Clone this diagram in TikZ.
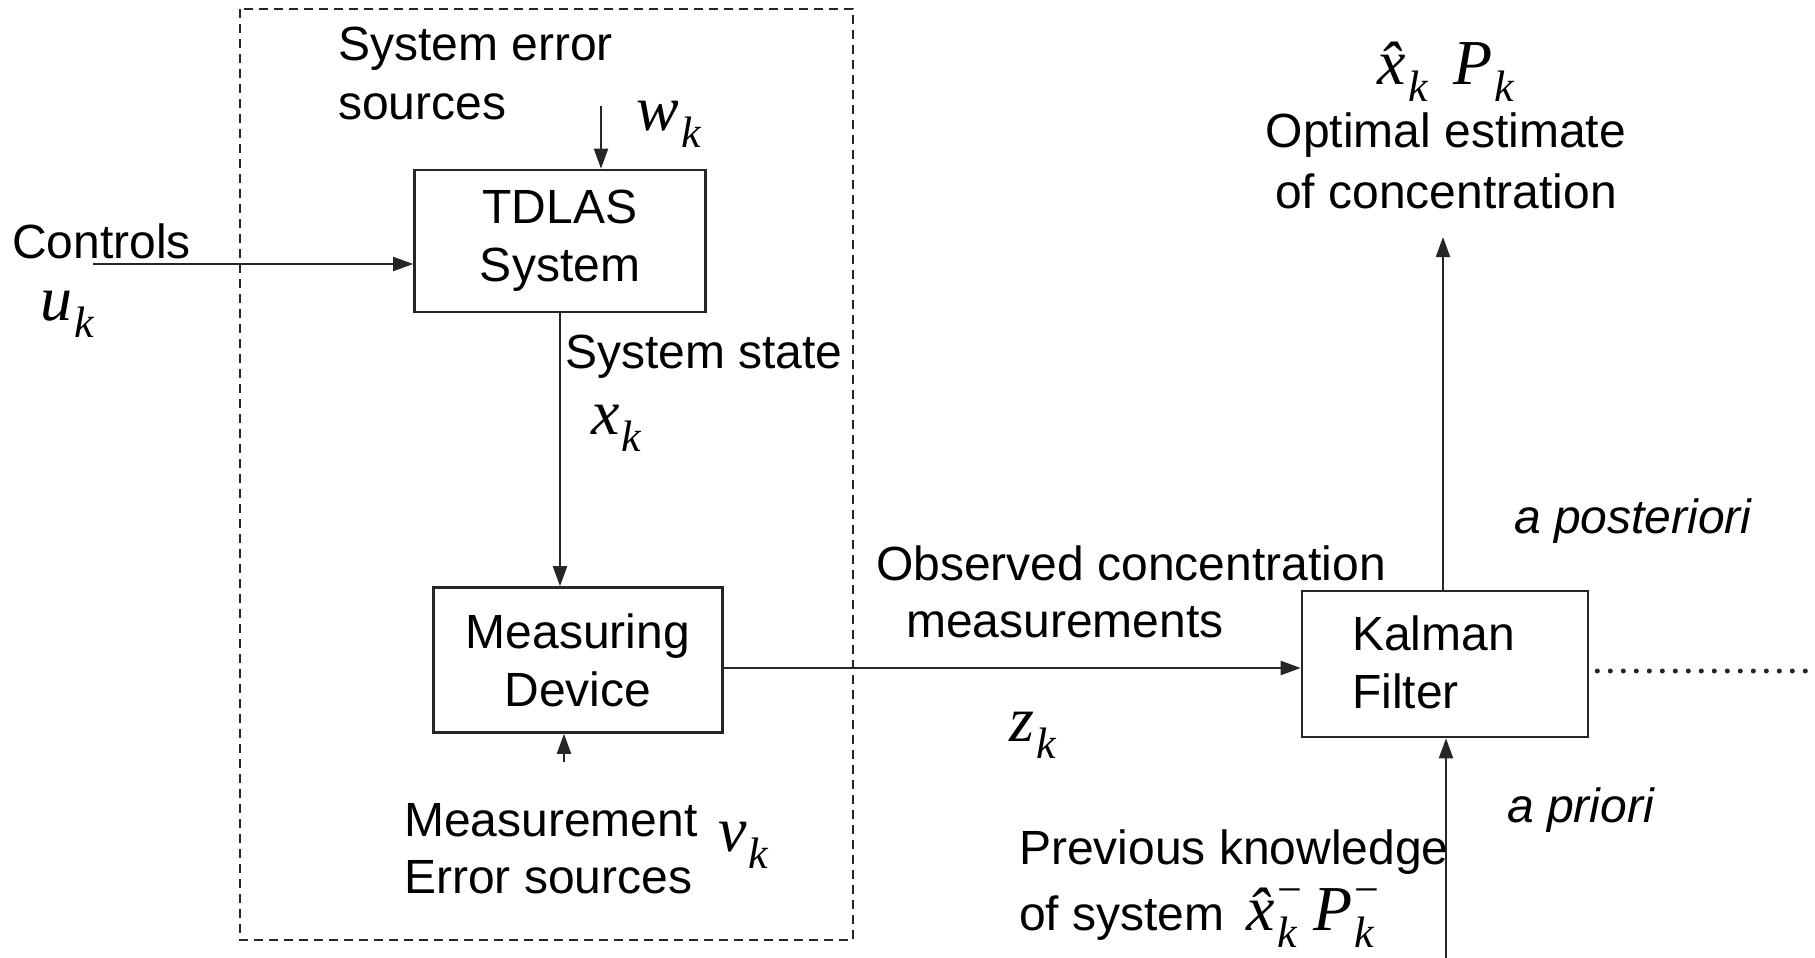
\documentclass[tikz,border=0pt]{standalone}
\usepackage{fontspec}
\setmainfont{Liberation Sans}
\newfontfamily\tms{Liberation Serif}
\usetikzlibrary{arrows.meta}
\newcommand{\mvar}[2]{{\tms\itshape\fontsize{64}{70}\selectfont #1\kern2pt\raisebox{-17pt}{\fontsize{44}{46}\selectfont #2}}}
\newcommand{\mvarm}[2]{{\tms\itshape\fontsize{64}{70}\selectfont #1\kern2pt\rlap{\raisebox{-17pt}{\fontsize{44}{46}\selectfont #2}}\raisebox{26pt}{\fontsize{44}{46}\selectfont\upshape −}}}
\begin{document}
\begin{tikzpicture}[x=1pt,y=-1pt,
  txt/.style={font=\fontsize{48}{58}\selectfont, inner sep=0pt},
  itx/.style={font=\fontsize{48}{58}\selectfont\itshape, inner sep=0pt},
  var/.style={inner sep=0pt},
  blk/.style={draw=black!85, line width=2.6pt, minimum width=#1, inner sep=0pt},
  conn/.style={draw=black!85, line width=2pt, -{Triangle[length=20pt,width=14pt]}},
  plain/.style={draw=black!85, line width=2pt}]
\useasboundingbox (0,0) rectangle (1815,958);
% dashed frame
\draw[black!85, line width=2pt, dash pattern=on 9pt off 6pt] (240,9) rectangle (853,940);
% blocks
\node[blk=291pt, minimum height=142pt, txt, align=center] (tdlas) at (560,241) {TDLAS\\System};
\node[blk=289pt, minimum height=145pt, txt, align=center] (meas) at (578,660) {Measuring\\Device};
\node[blk=286pt, minimum height=146pt] (kal) at (1445,664) {};
\node[txt, anchor=west, align=left] (kaltext) at (1352,662) {Kalman\\Filter};
% free ends
\coordinate (cin) at (93,264);
\coordinate (wtop) at (601,106);
\coordinate (vbot) at (564,762);
\coordinate (zline) at (700,668);
\coordinate (outtop) at (1443,237);
\coordinate (inbot) at (1446,958);
\coordinate (dotend) at (1806,671);
% connectors
\draw[conn] (cin) -- (cin -| tdlas.west);
\draw[conn] (wtop) -- (wtop |- tdlas.north);
\draw[conn] (tdlas.south) -- (tdlas.south |- meas.north);
\draw[conn] (vbot) -- (vbot |- meas.south);
\draw[conn] (zline -| meas.east) -- (zline -| kal.west);
\draw[conn] (outtop |- kal.north) -- (outtop);
\draw[conn] (inbot) -- (inbot |- kal.south);
\draw[black!85, line width=5pt, line cap=round, dash pattern=on 0pt off 13pt] ([xshift=8pt]dotend -| kal.east) -- (dotend);
% labels
\node[txt, anchor=west] (ctl) at (12,241) {Controls};
\node[var] (uk) at (67,314) {\mvar{u}{k}};
\node[txt, anchor=west] (se1) at (338,49) {System error};
\node[txt, anchor=west] (se2) at (338,107) {sources};
\node[var] (wk) at (669,124) {\mvar{w}{k}};
\node[txt, anchor=west] (ss) at (565,357) {System state};
\node[var] (xk) at (616,428) {\mvar{x}{k}};
\node[txt, anchor=west] (me1) at (404,820) {Measurement};
\node[txt, anchor=west] (me2) at (404,877) {Error sources};
\node[var] (vk) at (743,845) {\mvar{v}{k}};
\node[txt] (oc1) at (1131,563) {Observed concentration};
\node[txt, anchor=west] (oc2) at (906,622) {measurements};
\node[var] (zk) at (1033,735) {\mvar{z}{k}};
\node[var] (xp) at (1446,72) {\mvar{\^{x}}{k}\hspace{26pt}\mvar{P}{k}};
\node[txt] (oe1) at (1446,135) {Optimal estimate};
\node[txt] (oe2) at (1446,191) {of concentration};
\node[itx, anchor=west] (apost) at (1514,521) {a posteriori};
\node[itx, anchor=west] (apri) at (1507,810) {a priori};
\node[txt, anchor=west] (pk1) at (1019,852) {Previous knowledge};
\node[txt, anchor=base west] (pk2) at (1019,930) {of system\hspace{22pt}\mvarm{\^{x}}{k}\hspace{12pt}\mvarm{P}{k}};
\end{tikzpicture}
\end{document}
